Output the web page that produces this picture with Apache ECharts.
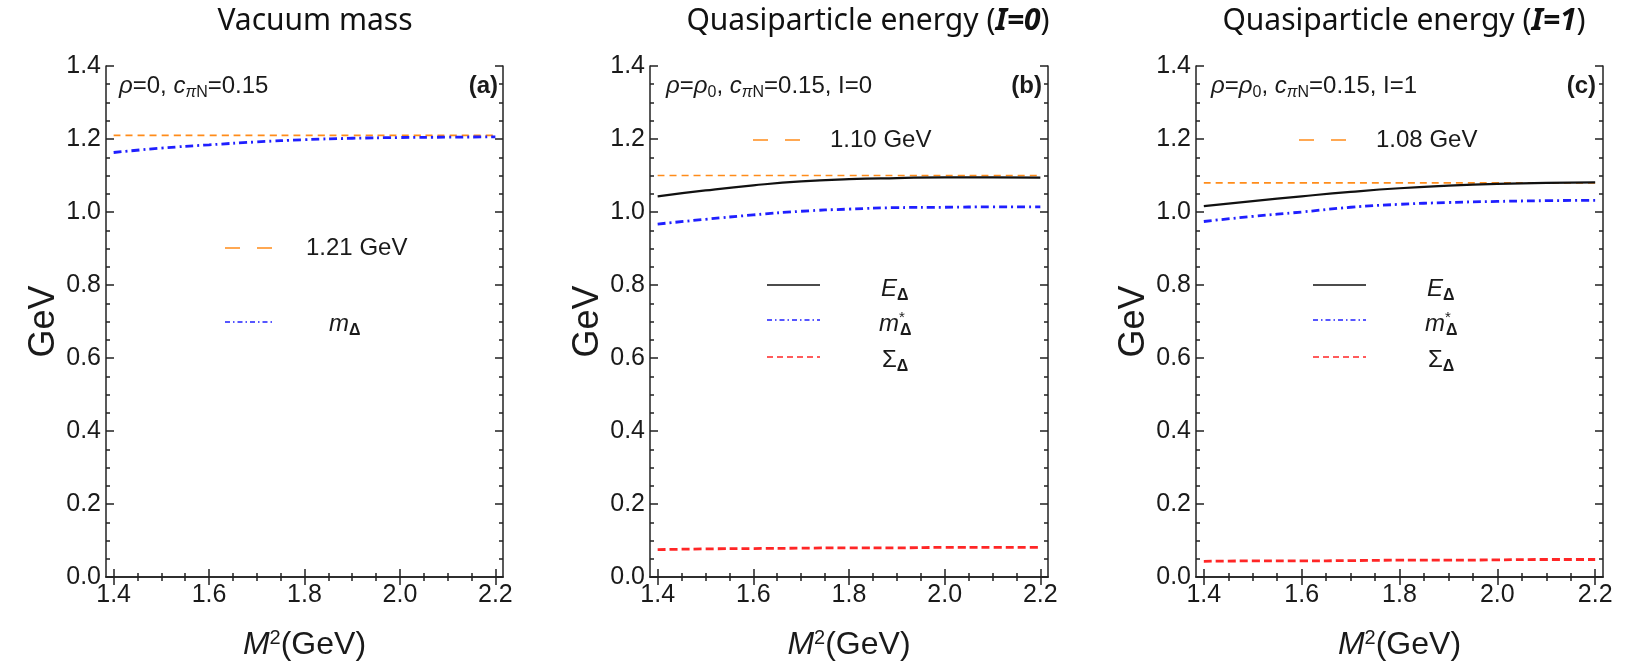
<!DOCTYPE html>
<html>
<head>
<meta charset="utf-8">
<script src="https://cdn.jsdelivr.net/npm/echarts@6/dist/echarts.min.js"></script>
<style>
  html, body { margin: 0; background: #fff; }
  #chart { width: 1648px; height: 661px; }
</style>
</head>
<body>
<div id="chart"></div>
<script>
// ---- data ----
const m2 = [1.4, 1.5, 1.6, 1.7, 1.8, 1.9, 2.0, 2.1, 2.2];
const xTicks = [1.4, 1.6, 1.8, 2.0, 2.2];
const yTicks = [0, 0.2, 0.4, 0.6, 0.8, 1.0, 1.2, 1.4];

// (a) vacuum
const vacuumRef = 1.21;
const vacuumMass = [1.163, 1.175, 1.184, 1.192, 1.198, 1.202, 1.204, 1.205, 1.206];

// (b) I=0
const refI0 = 1.10;
const energyI0 = [1.043, 1.059, 1.073, 1.084, 1.090, 1.093, 1.095, 1.095, 1.094];
const massI0 = [0.967, 0.980, 0.992, 1.002, 1.008, 1.012, 1.013, 1.014, 1.014];
const sigmaI0 = [0.075, 0.077, 0.078, 0.079, 0.080, 0.080, 0.081, 0.081, 0.081];

// (c) I=1
const refI1 = 1.08;
const energyI1 = [1.016, 1.030, 1.043, 1.055, 1.065, 1.072, 1.077, 1.080, 1.081];
const massI1 = [0.974, 0.988, 1.000, 1.013, 1.021, 1.026, 1.029, 1.031, 1.032];
const sigmaI1 = [0.043, 0.044, 0.044, 0.045, 0.046, 0.046, 0.047, 0.048, 0.048];

// ---- styling ----
const X_MIN = 1.384, X_MAX = 2.216;
const Y_MIN = 0, Y_MAX = 1.4;
const FRAME = { color: '#222', width: 1.5 };
const TXT = '#1a1a1a';
const ORANGE = '#ff8c1a', BLUE = '#1f1fff', RED = '#ff2626', BLACK = '#111';

const grids = [
  { left: 106, top: 66, width: 397, height: 511, outerBoundsMode: 'none' },
  { left: 650, top: 66, width: 398, height: 511, outerBoundsMode: 'none' },
  { left: 1196, top: 66, width: 407, height: 511, outerBoundsMode: 'none' },
];

function minorOf(ticks) {
  const out = [];
  for (let i = 0; i < ticks.length - 1; i++) {
    const step = (ticks[i + 1] - ticks[i]) / 4;
    for (let k = 1; k < 4; k++) out.push(+(ticks[i] + k * step).toFixed(3));
  }
  return out;
}
const xMinor = minorOf(xTicks);
const yMinor = minorOf(yTicks);

const labelFont = { color: TXT, fontSize: 25, fontFamily: 'Liberation Sans' };

function axisSet(g, kind) {
  const isX = kind === 'x';
  const base = {
    type: 'value', gridIndex: g,
    min: isX ? X_MIN : Y_MIN, max: isX ? X_MAX : Y_MAX,
    splitLine: { show: false },
  };
  const ticks = isX ? xTicks : yTicks;
  const minor = isX ? xMinor : yMinor;
  const pos = isX ? ['bottom', 'top'] : ['left', 'right'];
  const main = Object.assign({}, base, {
    position: pos[0],
    axisLine: { show: true, lineStyle: FRAME },
    axisTick: { inside: true, length: 8, customValues: ticks, lineStyle: FRAME },
    axisLabel: Object.assign({ customValues: ticks, formatter: v => v.toFixed(1), margin: isX ? 6 : 5 }, labelFont),
  });
  if (isX) {
    Object.assign(main, {
      name: '{i|M}{sup|2}{n|(GeV)}', nameLocation: 'middle', nameGap: 51,
      nameTextStyle: {
        color: TXT, fontSize: 32, fontFamily: 'Liberation Sans',
        rich: {
          i: { fontSize: 32, fontStyle: 'italic', fontFamily: 'Liberation Sans', color: TXT },
          sup: { fontSize: 20, fontFamily: 'Liberation Sans', color: TXT, padding: [0, 0, 15, 0] },
          n: { fontSize: 32, fontFamily: 'Liberation Sans', color: TXT },
        },
      },
    });
  } else {
    Object.assign(main, {
      name: 'GeV', nameLocation: 'middle', nameGap: 43,
      nameTextStyle: { color: TXT, fontSize: 36, fontFamily: 'Liberation Sans' },
    });
  }
  const mk = (p, len, vals, line) => Object.assign({}, base, {
    position: p,
    axisLine: { show: line, lineStyle: FRAME },
    axisTick: { inside: true, length: len, customValues: vals, lineStyle: FRAME },
    axisLabel: { show: false },
  });
  return [main, mk(pos[0], 4, minor, false), mk(pos[1], 8, ticks, true), mk(pos[1], 4, minor, false)];
}

function curve(g, name, ys, color, width, type) {
  return {
    type: 'line', name, xAxisIndex: 4 * g, yAxisIndex: 4 * g,
    data: m2.map((x, i) => [x, ys[i]]),
    symbol: 'none', smooth: true, silent: true,
    lineStyle: { color, width, type },
  };
}
function refLine(g, name, y) {
  return curve(g, name, m2.map(() => y), ORANGE, 1.7, [7, 5]);
}

const DASHDOT = [8, 4, 2, 4];
const series = [
  refLine(0, '1.21 GeV', vacuumRef),
  curve(0, 'mA', vacuumMass, BLUE, 2.8, DASHDOT),

  refLine(1, '1.10 GeV', refI0),
  curve(1, 'E0', energyI0, BLACK, 2.2, 'solid'),
  curve(1, 'm0', massI0, BLUE, 2.8, DASHDOT),
  curve(1, 's0', sigmaI0, RED, 2.8, [8, 4]),

  refLine(2, '1.08 GeV', refI1),
  curve(2, 'E1', energyI1, BLACK, 2.2, 'solid'),
  curve(2, 'm1', massI1, BLUE, 2.8, DASHDOT),
  curve(2, 's1', sigmaI1, RED, 2.8, [8, 4]),
];

// ---- in-panel text and legend keys ----
const F = 'Liberation Sans';
const rich = {
  n: { fontSize: 24, fontFamily: F, fill: TXT },
  i: { fontSize: 24, fontFamily: F, fontStyle: 'italic', fill: TXT },
  b: { fontSize: 24, fontFamily: F, fontWeight: 'bold', fill: TXT },
  sub: { fontSize: 16, fontFamily: F, fill: TXT, padding: [13, 0, 0, 0] },
  subi: { fontSize: 16, fontFamily: F, fontStyle: 'italic', fill: TXT, padding: [13, 0, 0, 0] },
  subb: { fontSize: 16, fontFamily: F, fontWeight: 'bold', fill: TXT, padding: [13, 0, 0, 0] },
  supz: { fontSize: 15, fontFamily: F, fill: TXT, padding: [0, 0, 13, 0], width: 1 },
};
function label(x, y, text, align) {
  return { type: 'text', x, y, silent: true,
    style: { text, rich, align: align || 'left', verticalAlign: 'middle', fill: TXT, fontSize: 24, fontFamily: F } };
}
function key(x1, x2, y, stroke, dash, w) {
  return { type: 'line', silent: true, shape: { x1, y1: y, x2, y2: y },
    style: { stroke, lineWidth: w || 1.7, lineDash: dash } };
}

const graphic = [
  // panel a
  label(119, 86, '{i|ρ}{n|=0, }{i|c}{subi|π}{sub|N}{n|=0.15}'),
  label(498, 86, '{b|(a)}', 'right'),
  key(225, 272, 248, ORANGE, [15, 17]),
  label(306, 248, '{n|1.21 GeV}'),
  key(225, 275, 322, BLUE, [5, 3, 1.5, 3]),
  label(329, 324, '{i|m}{subb|Δ}'),
  // panel b
  label(666, 86, '{i|ρ}{n|=}{i|ρ}{sub|0}{n|, }{i|c}{subi|π}{sub|N}{n|=0.15, I=0}'),
  label(1042, 86, '{b|(b)}', 'right'),
  key(753, 800, 140, ORANGE, [15, 17]),
  label(830, 140, '{n|1.10 GeV}'),
  key(767, 820, 285, BLACK, null),
  label(881, 289, '{i|E}{subb|Δ}'),
  key(767, 820, 320, BLUE, [5, 3, 1.5, 3]),
  label(879, 324, '{i|m}{supz|*}{subb|Δ}'),
  key(767, 820, 357, RED, [6, 4]),
  label(882, 360, '{n|Σ}{subb|Δ}'),
  // panel c
  label(1211, 86, '{i|ρ}{n|=}{i|ρ}{sub|0}{n|, }{i|c}{subi|π}{sub|N}{n|=0.15, I=1}'),
  label(1596, 86, '{b|(c)}', 'right'),
  key(1299, 1346, 140, ORANGE, [15, 17]),
  label(1376, 140, '{n|1.08 GeV}'),
  key(1313, 1366, 285, BLACK, null),
  label(1427, 289, '{i|E}{subb|Δ}'),
  key(1313, 1366, 320, BLUE, [5, 3, 1.5, 3]),
  label(1425, 324, '{i|m}{supz|*}{subb|Δ}'),
  key(1313, 1366, 357, RED, [6, 4]),
  label(1428, 360, '{n|Σ}{subb|Δ}'),
];

const titleStyle = {
  color: '#111', fontSize: 30, fontWeight: 'normal', fontFamily: 'Noto Sans',
  rich: {
    n: { fontSize: 30, fontFamily: 'Noto Sans', color: '#111' },
    bi: { fontSize: 30, fontFamily: 'Noto Sans', fontWeight: 'bold', fontStyle: 'italic', color: '#111' },
  },
};

const chart = echarts.init(document.getElementById('chart'), null, { renderer: 'canvas' });
chart.setOption({
  backgroundColor: '#fff',
  animation: false,
  title: [
    { text: '{n|Vacuum mass}', left: 310, top: 1, textAlign: 'center', textStyle: titleStyle },
    { text: '{n|Quasiparticle energy (}{bi|I=0}{n|)}', left: 863, top: 1, textAlign: 'center', textStyle: titleStyle },
    { text: '{n|Quasiparticle energy (}{bi|I=1}{n|)}', left: 1399, top: 1, textAlign: 'center', textStyle: titleStyle },
  ],
  grid: grids,
  xAxis: [].concat(axisSet(0, 'x'), axisSet(1, 'x'), axisSet(2, 'x')),
  yAxis: [].concat(axisSet(0, 'y'), axisSet(1, 'y'), axisSet(2, 'y')),
  series,
  graphic,
});
</script>
</body>
</html>
